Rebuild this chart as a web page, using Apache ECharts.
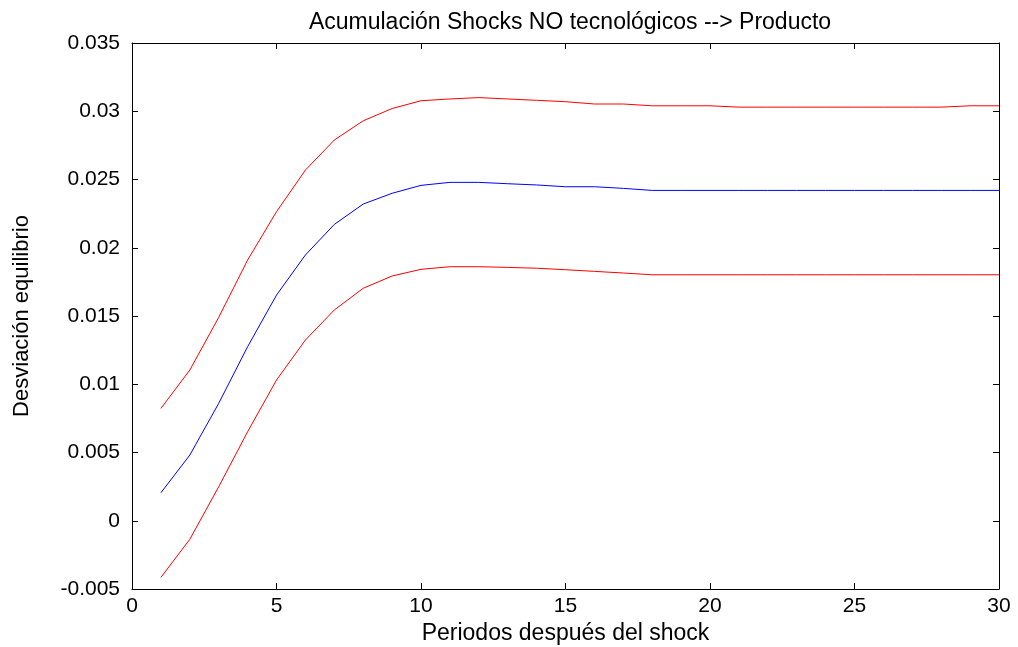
<!DOCTYPE html>
<html>
<head>
<meta charset="utf-8">
<script src="https://cdn.jsdelivr.net/npm/echarts@6/dist/echarts.min.js"></script>
<style>html,body{margin:0;padding:0;background:#fff;overflow:hidden;}#c{width:1018px;height:647px;}</style>
</head>
<body>
<div id="c"></div>
<script>
const periods = [1,2,3,4,5,6,7,8,9,10,11,12,13,14,15,16,17,18,19,20,21,22,23,24,25,26,27,28,29,30];
const upperBand = [0.00823,0.01104,0.0149,0.0191,0.02264,0.02569,0.02789,0.0293,0.0302,0.03077,0.0309,0.0310,0.0309,0.0308,0.0307,0.03053,0.03053,0.0304,0.0304,0.0304,0.0303,0.0303,0.0303,0.0303,0.0303,0.0303,0.0303,0.0303,0.0304,0.0304];
const response = [0.00205,0.00481,0.0086,0.01275,0.01653,0.01947,0.02171,0.0232,0.02399,0.02457,0.02479,0.02479,0.02469,0.0246,0.02447,0.02447,0.02435,0.0242,0.0242,0.0242,0.0242,0.0242,0.0242,0.0242,0.0242,0.0242,0.0242,0.0242,0.0242,0.0242];
const lowerBand = [-0.00415,-0.00136,0.00249,0.00652,0.01031,0.01324,0.01544,0.01703,0.01793,0.01842,0.01861,0.01861,0.01856,0.0185,0.01839,0.01827,0.01815,0.01802,0.01802,0.01802,0.01802,0.01802,0.01802,0.01802,0.01802,0.01802,0.01802,0.01802,0.01802,0.01802];
const titleText = 'Acumulación Shocks NO tecnológicos --> Producto';
const xName = 'Periodos después del shock';
const yName = 'Desviación equilibrio';

const pairs = arr => periods.map((p, i) => [p, arr[i]]);
const font = 'Liberation Sans, Arial, sans-serif';
const axisBase = {
  axisLine: {show: true, onZero: false, lineStyle: {color: '#000', width: 1}},
  axisTick: {show: true, inside: true, length: 6, lineStyle: {color: '#000'}},
  splitLine: {show: false}
};
const chart = echarts.init(document.getElementById('c'), null, {renderer: 'canvas', width: 1018, height: 647});
chart.setOption({
  animation: false,
  backgroundColor: '#fff',
  title: {text: titleText, left: 565, top: 6, textAlign: 'center',
    textStyle: {fontFamily: font, fontSize: 23, fontWeight: 'normal', color: '#000'}},
  grid: {left: 132, width: 867, top: 43, height: 546, containLabel: false, outerBoundsMode: 'none'},
  xAxis: [
    Object.assign({type: 'value', position: 'bottom', min: 0, max: 30, interval: 5,
      name: xName, nameLocation: 'middle', nameGap: 33,
      nameTextStyle: {fontFamily: font, fontSize: 23, color: '#000'},
      axisLabel: {fontFamily: font, fontSize: 21, color: '#000', margin: 7}}, axisBase),
    Object.assign({type: 'value', position: 'top', min: 0, max: 30, interval: 5,
      axisLabel: {show: false}}, axisBase)
  ],
  yAxis: [
    Object.assign({type: 'value', position: 'left', min: -0.005, max: 0.035, interval: 0.005,
      name: yName, nameLocation: 'middle', nameGap: 99, nameRotate: 90,
      nameTextStyle: {fontFamily: font, fontSize: 22, color: '#000'},
      axisLabel: {fontFamily: font, fontSize: 21, color: '#000', margin: 12}}, axisBase),
    Object.assign({type: 'value', position: 'right', min: -0.005, max: 0.035, interval: 0.005,
      axisLabel: {show: false}}, axisBase)
  ],
  series: [
    {type: 'line', name: 'upper', data: pairs(upperBand), showSymbol: false, symbol: 'none',
      lineStyle: {color: '#ff0000', width: 1}, itemStyle: {color: '#ff0000'}},
    {type: 'line', name: 'response', data: pairs(response), showSymbol: false, symbol: 'none',
      lineStyle: {color: '#0000ff', width: 1}, itemStyle: {color: '#0000ff'}},
    {type: 'line', name: 'lower', data: pairs(lowerBand), showSymbol: false, symbol: 'none',
      lineStyle: {color: '#ff0000', width: 1}, itemStyle: {color: '#ff0000'}}
  ]
});
</script>
</body>
</html>
